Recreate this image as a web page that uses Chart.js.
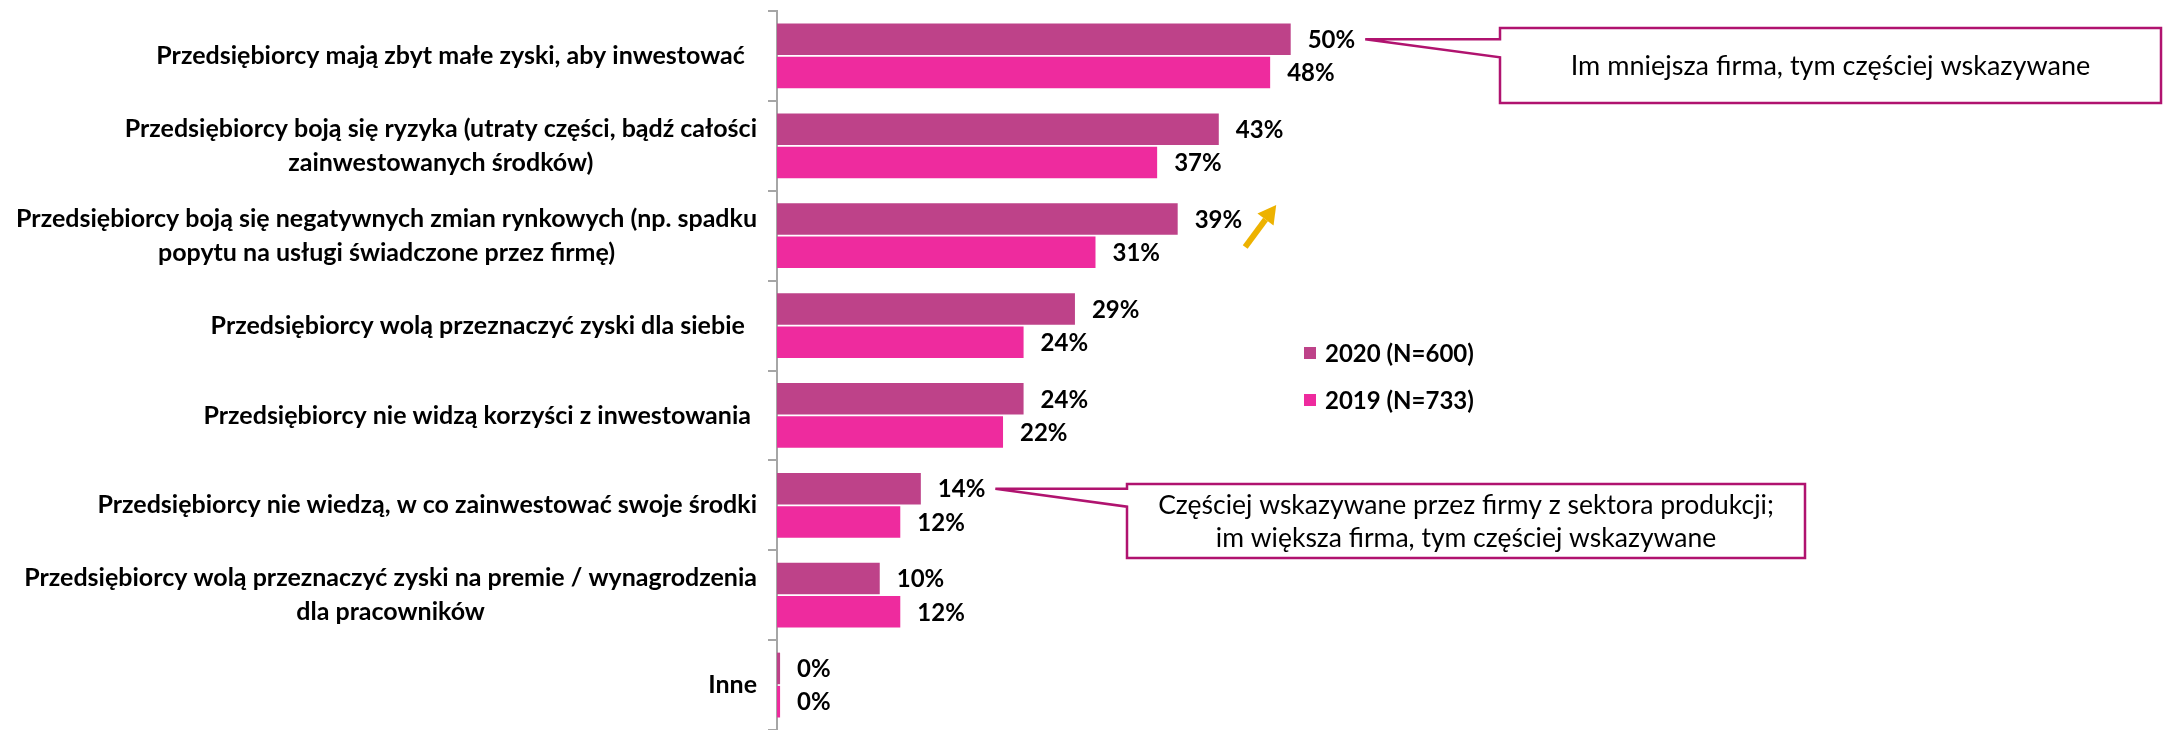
<!DOCTYPE html>
<html><head><meta charset="utf-8">
<script src="https://cdn.jsdelivr.net/npm/chart.js@4"></script>
<style>html,body{margin:0;padding:0;background:#fff}#wrap{width:2164px;height:730px}</style>
</head><body><div id="wrap"><canvas id="c" width="2164" height="730"></canvas></div>
<script>
const categories = [
  ["Przedsiębiorcy mają zbyt małe zyski, aby inwestować  "],
  ["Przedsiębiorcy boją się ryzyka (utraty części, bądź całości", "zainwestowanych środków)"],
  ["Przedsiębiorcy boją się negatywnych zmian rynkowych (np. spadku", "popytu na usługi świadczone przez firmę)"],
  ["Przedsiębiorcy wolą przeznaczyć zyski dla siebie  "],
  ["Przedsiębiorcy nie widzą korzyści z inwestowania "],
  ["Przedsiębiorcy nie wiedzą, w co zainwestować swoje środki"],
  ["Przedsiębiorcy wolą przeznaczyć zyski na premie / wynagrodzenia", "dla pracowników"],
  ["Inne"]
];
const series2020 = [50, 43, 39, 29, 24, 14, 10, 0.3];
const series2019 = [48, 37, 31, 24, 22, 12, 12, 0.3];
const seriesNames = ["2020 (N=600)", "2019 (N=733)"];
const callout1Text = ["Im mniejsza firma, tym częściej wskazywane"];
const callout2Text = ["Częściej wskazywane przez firmy z sektora produkcji;", "im większa firma, tym częściej wskazywane"];

const COL2020 = '#BE4289';
const COL2019 = '#EE2B9E';
const CALLOUT = '#B0136F';
const FONT = 'Lato, "Open Sans", sans-serif';
const CAT_FONT = 'bold 25px ' + FONT;
const LABEL_FONT = 'bold 24px ' + FONT;

function labelEnd(ctx, chart, ds, idx) {
  const bar = chart.getDatasetMeta(ds).data[idx];
  const val = chart.data.datasets[ds].data[idx];
  ctx.font = LABEL_FONT;
  const t = Math.round(val) + '%';
  return { x: bar.x + 17 + ctx.measureText(t).width, y: bar.y };
}

const decorPlugin = {
  id: 'decor',
  afterDatasetsDraw(chart) {
    const ctx = chart.ctx;
    const yScale = chart.scales.y;
    ctx.save();
    // category labels: block right-aligned, lines centered within block
    ctx.font = CAT_FONT;
    ctx.fillStyle = '#000';
    ctx.textBaseline = 'middle';
    ctx.textAlign = 'center';
    const rightEdge = chart.chartArea.left - 20;
    categories.forEach((lines, i) => {
      const cy = yScale.getPixelForValue(i);
      const maxW = Math.max(...lines.map(l => ctx.measureText(l).width));
      const cx = rightEdge - maxW / 2;
      const lh = 34;
      lines.forEach((l, k) => {
        const y = cy + (k - (lines.length - 1) / 2) * lh;
        ctx.fillText(l, cx, y);
      });
    });
    // data labels
    ctx.font = LABEL_FONT;
    ctx.textAlign = 'left';
    chart.data.datasets.forEach((ds, di) => {
      const meta = chart.getDatasetMeta(di);
      meta.data.forEach((bar, i) => {
        ctx.fillText(Math.round(ds.data[i]) + '%', bar.x + 17, bar.y + 1);
      });
    });
    // legend
    const legendItems = [[seriesNames[0], COL2020, 353], [seriesNames[1], COL2019, 400]];
    legendItems.forEach(([name, col, y]) => {
      ctx.fillStyle = col;
      ctx.fillRect(1304, y - 6, 12, 12);
      ctx.fillStyle = '#000';
      ctx.fillText(name, 1325, y + 1);
    });
    // callouts
    function callout(tipX, tipY, bx, by, bw, bh, lines, fontSize, lh) {
      ctx.beginPath();
      ctx.moveTo(tipX, tipY);
      ctx.lineTo(bx, tipY);
      ctx.lineTo(bx, by);
      ctx.lineTo(bx + bw, by);
      ctx.lineTo(bx + bw, by + bh);
      ctx.lineTo(bx, by + bh);
      ctx.lineTo(bx, tipY + 18);
      ctx.closePath();
      ctx.fillStyle = '#fff';
      ctx.fill();
      ctx.lineWidth = 2.5;
      ctx.strokeStyle = CALLOUT;
      ctx.lineJoin = 'miter';
      ctx.stroke();
      ctx.fillStyle = '#000';
      ctx.font = fontSize + 'px ' + FONT;
      ctx.textAlign = 'center';
      ctx.textBaseline = 'middle';
      lines.forEach((l, k) => {
        ctx.fillText(l, bx + bw / 2, by + bh / 2 + (k - (lines.length - 1) / 2) * lh + 1);
      });
    }
    const e1 = labelEnd(ctx, chart, 0, 0);
    callout(e1.x + 10, e1.y, 1500, 28, 661, 75, callout1Text, 27, 33);
    const e2 = labelEnd(ctx, chart, 0, 5);
    callout(e2.x + 10, e2.y, 1127, 484, 678, 74, callout2Text, 26.5, 33);
    // arrow near 39%
    const e3 = labelEnd(ctx, chart, 0, 2);
    const x0 = e3.x + 3, y0 = e3.y + 28, x1 = e3.x + 34, y1 = e3.y - 14;
    const ang = Math.atan2(y1 - y0, x1 - x0);
    const headL = 18, headW = 10;
    const bx = x1 - headL * Math.cos(ang), by = y1 - headL * Math.sin(ang);
    ctx.strokeStyle = '#EDB200';
    ctx.fillStyle = '#EDB200';
    ctx.lineWidth = 6;
    ctx.lineCap = 'butt';
    ctx.beginPath(); ctx.moveTo(x0, y0); ctx.lineTo(bx, by); ctx.stroke();
    ctx.beginPath();
    ctx.moveTo(x1, y1);
    ctx.lineTo(bx + headW * Math.sin(ang), by - headW * Math.cos(ang));
    ctx.lineTo(bx - headW * Math.sin(ang), by + headW * Math.cos(ang));
    ctx.closePath(); ctx.fill();
    ctx.restore();
  }
};

new Chart(document.getElementById('c'), {
  type: 'bar',
  data: {
    labels: categories,
    datasets: [
      { label: seriesNames[0], data: series2020, backgroundColor: COL2020, categoryPercentage: 0.74, barPercentage: 0.95 },
      { label: seriesNames[1], data: series2019, backgroundColor: COL2019, categoryPercentage: 0.74, barPercentage: 0.95 }
    ]
  },
  options: {
    indexAxis: 'y',
    responsive: false,
    animation: false,
    devicePixelRatio: 1,
    layout: { padding: { top: 11, bottom: -3, left: 0, right: 0 } },
    plugins: { legend: { display: false }, tooltip: { enabled: false } },
    scales: {
      x: { min: 0, max: 135, display: false },
      y: {
        grid: { display: true, drawOnChartArea: false, drawTicks: true, tickLength: 9, color: '#A6A6A6', lineWidth: 2, offset: true },
        border: { display: true, color: '#A6A6A6', width: 2 },
        ticks: { display: false },
        afterFit(s) { s.width = 777; }
      }
    }
  },
  plugins: [decorPlugin]
});
</script>
</body></html>
